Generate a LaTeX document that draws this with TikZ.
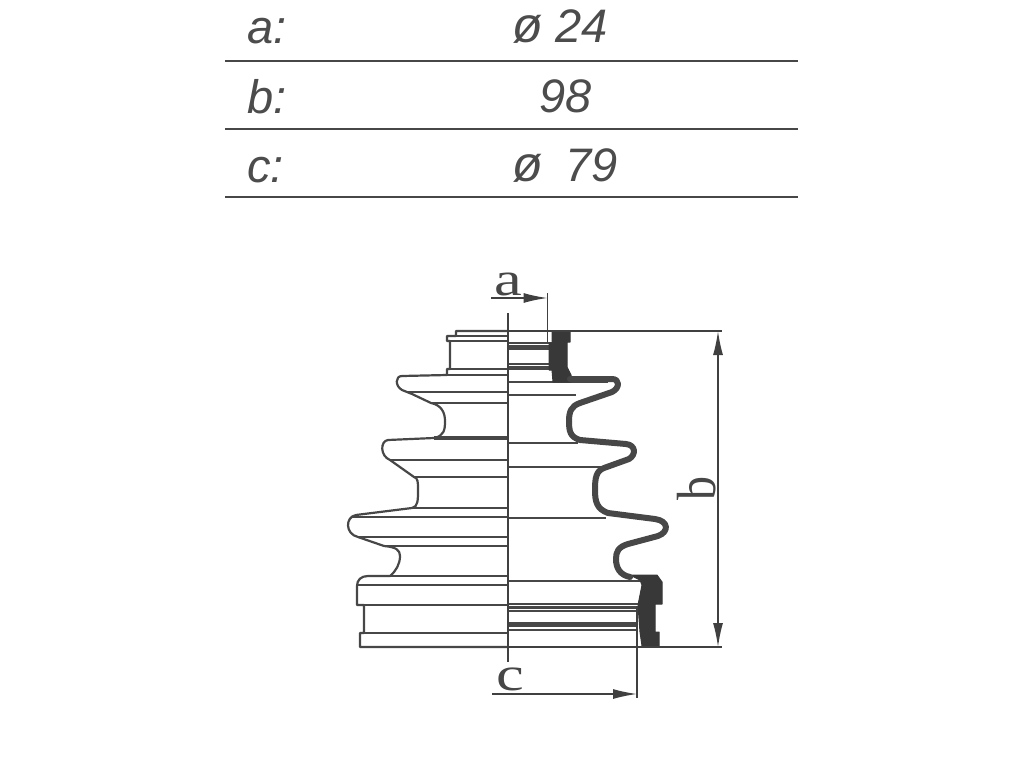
\documentclass[tikz,border=0pt]{standalone}
\usepackage{fontspec}
\setmainfont{Liberation Serif}
\newfontfamily\tablefont{Liberation Sans}
\usetikzlibrary{arrows.meta}

\newcommand{\dia}{{\fontsize{50}{50}\selectfont ø}}

\tikzset{
	rowtext/.style={inner sep=0pt, anchor=base, text=black!70, font=\tablefont\itshape\fontsize{47}{47}\selectfont},
	rowrule/.style={line width=1.3pt, black!72},
	dimtext/.style={inner sep=0pt, anchor=base, text=black!72, font=\fontsize{48}{48}\selectfont},
	dimline/.style={line width=1.4pt, black!75},
	dimtip/.style={-{Latex[length=24pt, width=10pt]}},
	thin outline/.style={line width=2.2pt, black!72},
	thick outline/.style={line width=6pt, black!72, line join=round, line cap=round},
	seal/.style={fill=black!78, draw=black!78, line width=1pt, line join=round}
}

\begin{document}
\begin{tikzpicture}[x=1pt, y=-1pt]
	\useasboundingbox (0,0) rectangle (1024,768);

	% table
	\node[rowtext, anchor=base west] (a label) at (247,44) {a:};
	\node[rowtext, anchor=base west] (b label) at (247,113) {b:};
	\node[rowtext, anchor=base west] (c label) at (247,182) {c:};
	\node[rowtext, anchor=base west] (a value) at (512,43) {\dia{} 24};
	\node[rowtext, anchor=base west] (b value) at (539,112) {98};
	\node[rowtext, anchor=base west] (c value) at (512,181) {\dia\hspace{23pt}79};
	\foreach \rowname/\rowy in {r1/61, r2/129, r3/197} {
		\coordinate (\rowname L) at (225,\rowy);
		\coordinate (\rowname R) at (798,\rowy);
		\draw[rowrule] (\rowname L) -- (\rowname R);
	}

	% left half of the boot
	\draw[thin outline, line join=round]
		(508,331) -- (456,331) -- (456,336) -- (447,336) -- (447,341) -- (450,341)
		-- (450,369) -- (447,369) -- (447,375) -- (402,376)
		.. controls (395,376) and (395,386) .. (402,390)
		-- (412,394) -- (431,403)
		.. controls (441,405) and (445,412) .. (445,421)
		.. controls (445,430) and (444,436) .. (434,438)
		-- (388,440)
		.. controls (380,441) and (380,456) .. (390,460)
		-- (414,477)
		.. controls (418,478) and (418,482) .. (418,490)
		.. controls (418,500) and (418,507) .. (412,508)
		-- (356,515)
		.. controls (345,517) and (345,534) .. (358,537)
		-- (384,546)
		.. controls (396,547) and (400,550) .. (400,556)
		.. controls (400,564) and (396,571) .. (390,576)
		-- (368,576)
		.. controls (361,576) and (357,580) .. (357,586)
		-- (357,605) -- (364,605) -- (364,633) -- (360,633) -- (360,647) -- (508,647);
	\foreach \lineystart/\linexstart in {336/447, 341/447, 369/450, 375/447, 392/407, 403/430, 438/434,
		460/390, 477/414, 508/412, 517/352, 537/358, 546/384, 576/368, 585/357, 605/357, 633/360} {
		\coordinate (left end) at (\linexstart,\lineystart);
		\coordinate (axis end) at (508,\lineystart);
		\draw[thin outline] (left end) -- (axis end);
	}
	\draw[line width=3.5pt, black!72] (434,438) -- (508,438);

	% right half of the boot
	\foreach \lineystart/\linexend in {343/552, 349/552, 364/552, 369/552, 382/608, 395/576, 443/578,
		467/602, 518/606, 581/640, 604/638, 611/638, 623/638, 630/638} {
		\coordinate (axis end) at (508,\lineystart);
		\coordinate (right end) at (\linexend,\lineystart);
		\draw[thin outline] (axis end) -- (right end);
	}
	\draw[line width=3pt, black!72] (508,346) -- (550,346);
	\draw[line width=3pt, black!72] (508,367) -- (550,367);
	\draw[line width=3pt, black!72] (508,607) -- (638,607);
	\draw[line width=3pt, black!72] (508,625) -- (638,625);

	\fill[seal] (552,332) -- (570,332) -- (570,342) -- (567,342) -- (567,367) -- (571,375)
		-- (571,382) -- (553,382) -- (552,370) -- (549,370) -- (549,343) -- (552,343) -- cycle;
	\fill[seal] (630,575) -- (657,575) -- (662,582) -- (662,604) -- (655,604) -- (655,632)
		-- (659,632) -- (659,646) -- (642,646) -- (640,632) -- (638,605) -- (642,585)
		-- (640,580) -- cycle;
	\draw[thick outline]
		(570,379) -- (612,379)
		.. controls (620,379) and (620,388) .. (612,392)
		-- (580,403)
		.. controls (571,406) and (569,412) .. (569,421)
		.. controls (569,431) and (570,437) .. (580,440)
		-- (626,444)
		.. controls (636,445) and (636,455) .. (629,459)
		-- (604,468)
		.. controls (596,471) and (595,478) .. (595,490)
		.. controls (595,502) and (597,509) .. (608,513)
		-- (655,519)
		.. controls (669,521) and (669,532) .. (658,536)
		-- (628,544)
		.. controls (618,547) and (616,552) .. (616,559)
		.. controls (616,568) and (620,575) .. (630,577);

	% axis and dimensions
	\coordinate (axis top) at (508,313);
	\coordinate (axis bottom) at (508,662);
	\draw[line width=1.8pt, black!75] (axis top) -- (axis bottom);

	\node[dimtext] (a mark) at (508,295) {\scalebox{1.3}[1]{a}};
	\coordinate (a start) at (491,298);
	\coordinate (a end) at (547.5,298);
	\coordinate (a top) at (547.5,293);
	\coordinate (a bottom) at (547.5,343);
	\draw[dimline, dimtip] (a start) -- (a end);
	\draw[dimline] (a top) -- (a bottom);

	\node[dimtext] (c mark) at (510,690) {\scalebox{1.3}[1]{c}};
	\coordinate (c start) at (492,694);
	\coordinate (c end) at (637,694);
	\coordinate (c top) at (637,606);
	\coordinate (c bottom) at (637,698);
	\draw[dimline, dimtip] (c start) -- (c end);
	\draw[dimline] (c top) -- (c bottom);

	\coordinate (b top left) at (508,331);
	\coordinate (b top right) at (722,331);
	\coordinate (b low left) at (508,647);
	\coordinate (b low right) at (722,647);
	\coordinate (b top) at (718,331);
	\coordinate (b low) at (718,647);
	\draw[dimline] (b top left) -- (b top right);
	\draw[dimline] (b low left) -- (b low right);
	\draw[dimline, {Latex[length=24pt, width=10pt]}-{Latex[length=24pt, width=10pt]}] (b top) -- (b low);
	\node[dimtext, rotate=90] (b mark) at (715,488) {\scalebox{1}[1.15]{b}};
\end{tikzpicture}
\end{document}
